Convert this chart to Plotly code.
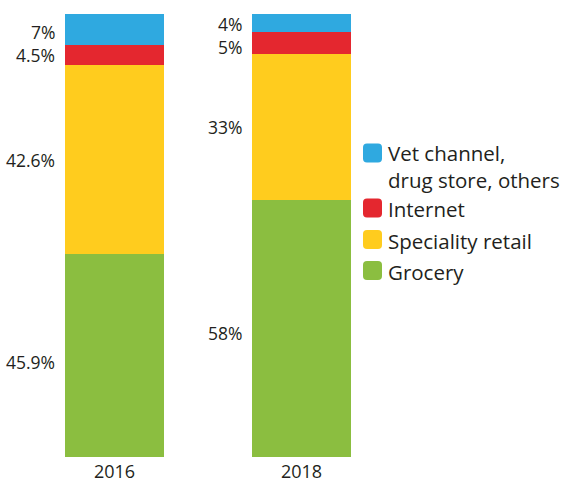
import plotly.graph_objects as go

years = ["2016", "2018"]
series = ["Grocery", "Speciality retail", "Internet", "Vet channel, drug store, others"]
legend_labels = ["Grocery", "Speciality retail", "Internet", "Vet channel,<br>drug store, others"]
values = {
    "Grocery": [45.9, 58],
    "Speciality retail": [42.6, 33],
    "Internet": [4.5, 5],
    "Vet channel, drug store, others": [7, 4],
}
value_labels = {
    "Grocery": ["45.9%", "58%"],
    "Speciality retail": ["42.6%", "33%"],
    "Internet": ["4.5%", "5%"],
    "Vet channel, drug store, others": ["7%", "4%"],
}
# small vertical nudges (px, positive = up) to keep labels apart as in the original
label_nudge = {
    "Grocery": [-7, -4],
    "Speciality retail": [-1, 0],
    "Internet": [0, -4],
    "Vet channel, drug store, others": [-2, -1],
}
colors = ["#8BBE40", "#FFCC1E", "#E4272F", "#2FA9E0"]

FONT = "Open Sans"
TXT = "#231F20"
W, H = 564, 483
ML, MR, MT, MB = 0, 0, 14, 26
BAR_W = 0.53

fig = go.Figure()
xs = list(range(len(years)))
for s, c in zip(series, colors):
    fig.add_trace(go.Bar(x=xs, y=values[s], marker=dict(color=c, line=dict(width=0)),
                         width=BAR_W, name=s, showlegend=False, hoverinfo="skip"))

# segment labels, left of bars
annotations = []
for i in xs:
    cum = 0
    for s in series:
        v = values[s][i]
        mid = cum + v / 2
        cum += v
        annotations.append(dict(x=i - BAR_W / 2, y=mid, xref="x", yref="y",
                                text=value_labels[s][i], showarrow=False,
                                xanchor="right", yanchor="middle", xshift=-8,
                                yshift=label_nudge[s][i],
                                font=dict(family=FONT, size=17.5, color=TXT)))

# manual legend (top to bottom: Vet, Internet, Speciality, Grocery)
plot_h = H - MT - MB
def py(pix):
    return (H - MB - pix) / plot_h

legend_rows = [(3, 153, 166), (2, 208, 209), (1, 239.5, 240.5), (0, 270.5, 271.5)]
shapes = []
sq = 19
r = 4
for idx, sq_c, txt_c in legend_rows:
    y0 = py(sq_c)
    h = sq / 2
    path = (f"M {-h + r},{-h} L {h - r},{-h} Q {h},{-h} {h},{-h + r} "
            f"L {h},{h - r} Q {h},{h} {h - r},{h} L {-h + r},{h} Q {-h},{h} {-h},{h - r} "
            f"L {-h},{-h + r} Q {-h},{-h} {-h + r},{-h} Z")
    shapes.append(dict(type="path", xref="paper", yref="paper",
                       xsizemode="pixel", ysizemode="pixel",
                       xanchor=(363 + h) / W, yanchor=y0, path=path,
                       fillcolor=colors[idx], line=dict(width=0)))
    annotations.append(dict(x=386 / W, y=py(txt_c), xref="paper", yref="paper",
                            text=legend_labels[idx], showarrow=False, align="left",
                            xanchor="left", yanchor="middle",
                            font=dict(family=FONT, size=20.5, color=TXT)))

px_per_unit = 187
x0 = -114.5 / px_per_unit
x1 = x0 + W / px_per_unit

fig.update_layout(
    width=W, height=H,
    margin=dict(l=ML, r=MR, t=MT, b=MB, autoexpand=False),
    barmode="stack",
    plot_bgcolor="white", paper_bgcolor="white",
    xaxis=dict(range=[x0, x1], tickmode="array", tickvals=xs, ticktext=years,
               showgrid=False, zeroline=False, showline=False, ticks="",
               automargin=False, ticklabelstandoff=2,
               tickfont=dict(family=FONT, size=18, color=TXT)),
    yaxis=dict(range=[0, 100], visible=False, automargin=False),
    annotations=annotations,
    shapes=shapes,
)

fig.write_html("out.html")
